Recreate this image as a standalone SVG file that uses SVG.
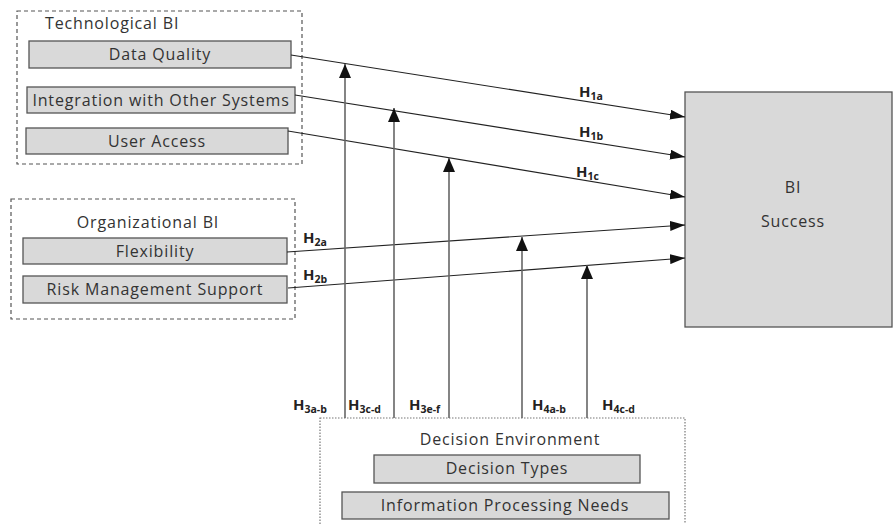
<svg xmlns="http://www.w3.org/2000/svg" width="893" height="524" viewBox="0 0 893 524">
<defs>
<style>
.grp{fill:none;stroke:#555;stroke-width:1.2;stroke-dasharray:4,3}
.env{fill:none;stroke:#777;stroke-width:1.2;stroke-dasharray:1.5,1.5}
.box{fill:#d9d9d9;stroke:#555;stroke-width:1.3}
.t{font-family:"Open Sans","Liberation Sans",sans-serif;font-size:16px;letter-spacing:0.85px;fill:#333;text-anchor:middle}
.tl{font-family:"Open Sans","Liberation Sans",sans-serif;font-size:16px;letter-spacing:0.85px;fill:#333}
.h{font-family:"Open Sans","Liberation Sans",sans-serif;font-size:15px;font-weight:bold;fill:#222}
.s{font-size:10.5px}
.ln{stroke:#222;stroke-width:1.1;fill:none}
.vl{stroke:#666;stroke-width:1.6;fill:none}
</style>
<marker id="ah" viewBox="0 0 15 10" refX="15" refY="5" markerWidth="15" markerHeight="10" markerUnits="userSpaceOnUse" orient="auto">
<path d="M0,0 L15,5 L0,10 Z" fill="#111"/>
</marker>
<marker id="av" viewBox="0 0 14 12" refX="14" refY="6" markerWidth="14" markerHeight="12" markerUnits="userSpaceOnUse" orient="auto">
<path d="M0,0 L14,6 L0,12 Z" fill="#111"/>
</marker>
</defs>

<g id="technological-bi">
<rect class="grp" x="17" y="11" width="285" height="153"/>
<text class="tl" x="45" y="29">Technological BI</text>
</g>
<g id="data-quality">
<rect class="box" x="29" y="41" width="262" height="27"/>
<text class="t" x="160" y="60">Data Quality</text>
</g>
<g id="integration">
<rect class="box" x="27" y="87" width="268" height="26"/>
<text class="t" x="161" y="106">Integration with Other Systems</text>
</g>
<g id="user-access">
<rect class="box" x="26" y="128" width="262" height="26"/>
<text class="t" x="157" y="147">User Access</text>
</g>

<g id="organizational-bi">
<rect class="grp" x="11" y="199" width="284" height="120"/>
<text class="t" x="148" y="228">Organizational BI</text>
</g>
<g id="flexibility">
<rect class="box" x="23" y="238" width="264" height="26"/>
<text class="t" x="155" y="257">Flexibility</text>
</g>
<g id="risk-management">
<rect class="box" x="23" y="276" width="264" height="27"/>
<text class="t" x="155" y="295">Risk Management Support</text>
</g>

<g id="bi-success">
<rect class="box" x="685" y="92" width="207" height="235"/>
<text class="t" x="793" y="193">BI</text>
<text class="t" x="793" y="227">Success</text>
</g>

<g id="decision-environment">
<rect class="env" x="320" y="418" width="365" height="120"/>
<text class="t" x="510" y="445">Decision Environment</text>
</g>
<g id="decision-types">
<rect class="box" x="374" y="455" width="266" height="28"/>
<text class="t" x="507" y="474">Decision Types</text>
</g>
<g id="information-processing">
<rect class="box" x="342" y="492" width="327" height="27"/>
<text class="t" x="505" y="511">Information Processing Needs</text>
</g>

<g id="connectors">
<line class="ln" x1="291" y1="55" x2="685" y2="117" marker-end="url(#ah)"/>
<line class="ln" x1="295" y1="95" x2="685" y2="157" marker-end="url(#ah)"/>
<line class="ln" x1="288" y1="131" x2="685" y2="197" marker-end="url(#ah)"/>
<line class="ln" x1="287" y1="252" x2="685" y2="225" marker-end="url(#ah)"/>
<line class="ln" x1="288" y1="288" x2="685" y2="258" marker-end="url(#ah)"/>
<line class="vl" x1="345" y1="418" x2="345" y2="64" marker-end="url(#av)"/>
<line class="vl" x1="394" y1="418" x2="394" y2="108" marker-end="url(#av)"/>
<line class="vl" x1="449" y1="418" x2="449" y2="158" marker-end="url(#av)"/>
<line class="vl" x1="522" y1="418" x2="522" y2="237" marker-end="url(#av)"/>
<line class="vl" x1="587" y1="418" x2="587" y2="265" marker-end="url(#av)"/>
</g>

<g id="labels">
<text class="h" x="579" y="97">H<tspan class="s" dy="3">1a</tspan></text>
<text class="h" x="579" y="137">H<tspan class="s" dy="3">1b</tspan></text>
<text class="h" x="576" y="177">H<tspan class="s" dy="3">1c</tspan></text>
<text class="h" x="303" y="243">H<tspan class="s" dy="3">2a</tspan></text>
<text class="h" x="303" y="280">H<tspan class="s" dy="3">2b</tspan></text>
<text class="h" x="293" y="410">H<tspan class="s" dy="3">3a-b</tspan></text>
<text class="h" x="348" y="410">H<tspan class="s" dy="3">3c-d</tspan></text>
<text class="h" x="409" y="410">H<tspan class="s" dy="3">3e-f</tspan></text>
<text class="h" x="532" y="410">H<tspan class="s" dy="3">4a-b</tspan></text>
<text class="h" x="602" y="410">H<tspan class="s" dy="3">4c-d</tspan></text>
</g>
</svg>
